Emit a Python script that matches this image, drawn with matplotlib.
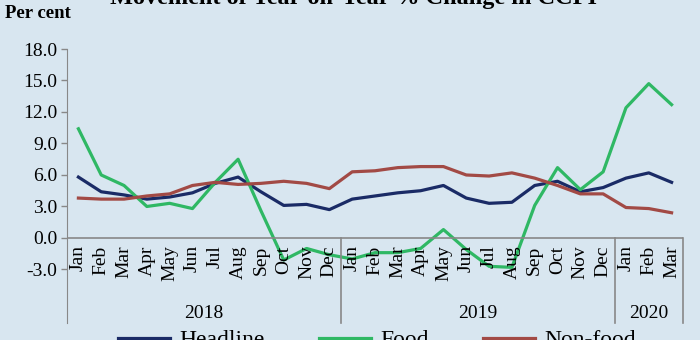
import matplotlib
matplotlib.use('Agg')
import matplotlib.pyplot as plt

# data
months = ['Jan', 'Feb', 'Mar', 'Apr', 'May', 'Jun', 'Jul', 'Aug', 'Sep', 'Oct', 'Nov', 'Dec',
          'Jan', 'Feb', 'Mar', 'Apr', 'May', 'Jun', 'Jul', 'Aug', 'Sep', 'Oct', 'Nov', 'Dec',
          'Jan', 'Feb', 'Mar']
years = ['2018', '2019', '2020']
year_len = [12, 12, 3]

headline = [5.8, 4.4, 4.1, 3.7, 3.9, 4.3, 5.2, 5.8, 4.4, 3.1, 3.2, 2.7,
            3.7, 4.0, 4.3, 4.5, 5.0, 3.8, 3.3, 3.4, 5.0, 5.4, 4.4, 4.8,
            5.7, 6.2, 5.3]
food = [10.4, 6.0, 5.0, 3.0, 3.3, 2.8, 5.3, 7.5, 2.6, -2.1, -1.0, -1.6,
        -2.0, -1.4, -1.4, -1.0, 0.8, -1.1, -2.7, -2.8, 3.1, 6.7, 4.6, 6.3,
        12.4, 14.7, 12.7]
nonfood = [3.8, 3.7, 3.7, 4.0, 4.2, 5.0, 5.3, 5.1, 5.2, 5.4, 5.2, 4.7,
           6.3, 6.4, 6.7, 6.8, 6.8, 6.0, 5.9, 6.2, 5.7, 5.0, 4.2, 4.2,
           2.9, 2.8, 2.4]

bg = '#d8e6f0'
c_head = '#1a2b66'
c_food = '#2fb864'
c_nonf = '#a24a45'
serif = ['Liberation Serif', 'DejaVu Serif']

plt.rcParams['font.family'] = serif

fig = plt.figure(figsize=(7, 3.4), dpi=100, facecolor=bg)
ax = fig.add_axes([67/700, 17/340, 616/700, 274/340])
ax.set_facecolor(bg)

x = list(range(len(months)))
ax.plot(x, headline, color=c_head, lw=2.3, label='Headline')
ax.plot(x, food, color=c_food, lw=2.3, label='Food')
ax.plot(x, nonfood, color=c_nonf, lw=2.3, label='Non-food')

ax.set_xlim(-0.5, len(months) - 0.5)
ax.set_ylim(-8.1, 18)
ax.set_yticks([-3, 0, 3, 6, 9, 12, 15, 18])
ax.set_yticklabels(['-3.0', '0.0', '3.0', '6.0', '9.0', '12.0', '15.0', '18.0'])
ax.tick_params(axis='y', labelsize=14, color='#888888', length=4, width=1, pad=3)
ax.set_xticks([])

for s in ['top', 'right', 'bottom']:
    ax.spines[s].set_visible(False)
ax.spines['left'].set_color('#888888')
ax.spines['left'].set_bounds(-8.1, 18)

# zero line and year separators
ax.axhline(0, color='#888888', lw=1.2)
start = 0
for yr, n in zip(years, year_len):
    end = start + n
    ax.plot([end - 0.5, end - 0.5], [0, -8.1], color='#888888', lw=1.2, clip_on=False)
    ax.text((start + end - 1) / 2, -7.2, yr, ha='center', va='center', fontsize=14)
    start = end

for i, m in enumerate(months):
    ax.text(i, -0.7, m, rotation=90, ha='center', va='top', fontsize=14)

fig.text(5/700, 1 - 14/340, 'Per cent', fontsize=13.5, fontweight='bold', va='center')
fig.text(353/700, 1 - 4/340, 'Movement of Year-on-Year % Change in CCPI',
         fontsize=17.5, fontweight='bold', ha='center', va='baseline')

fig.legend(handles=ax.get_lines()[:3], loc='center', bbox_to_anchor=(0.539, 0.0),
           ncol=3, frameon=False, fontsize=17, handlelength=2.2, columnspacing=2.3,
           handletextpad=0.4)

fig.savefig('out.png', dpi=100, facecolor=bg)
